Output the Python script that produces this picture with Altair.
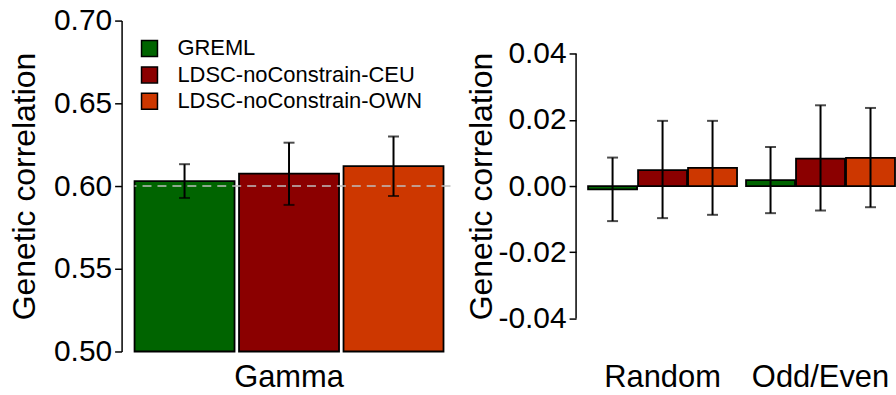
import altair as alt
import pandas as pd

FONT = "Liberation Sans"

methods = ["GREML", "LDSC-noConstrain-CEU", "LDSC-noConstrain-OWN"]
colors = ["#006400", "#8B0000", "#CD3700"]

left_groups = ["Gamma"]
gamma_est = [0.6030, 0.6075, 0.6120]
gamma_lo = [0.5928, 0.5886, 0.5940]
gamma_hi = [0.6132, 0.6262, 0.6300]
true_value = [0.60]

right_groups = ["Random", "Odd/Even"]
random_est = [-0.0010, 0.0048, 0.0055]
random_lo = [-0.0106, -0.0097, -0.0087]
random_hi = [0.0086, 0.0197, 0.0197]
oddeven_est = [0.0018, 0.0083, 0.0085]
oddeven_lo = [-0.0082, -0.0074, -0.0064]
oddeven_hi = [0.0118, 0.0244, 0.0236]

left_ticks = [0.50, 0.55, 0.60, 0.65, 0.70]
right_ticks = [-0.04, -0.02, 0.00, 0.02, 0.04]

left_df = pd.DataFrame({
    "group": left_groups * 3,
    "method": methods,
    "est": gamma_est,
    "lo": gamma_lo,
    "hi": gamma_hi,
})
right_df = pd.DataFrame({
    "group": [right_groups[0]] * 3 + [right_groups[1]] * 3,
    "method": methods * 2,
    "est": random_est + oddeven_est,
    "lo": random_lo + oddeven_lo,
    "hi": random_hi + oddeven_hi,
})
ref_df = pd.DataFrame({"val": true_value})
axisline_df = pd.DataFrame({"lo": [right_ticks[0]], "hi": [right_ticks[-1]]})

YTITLE = "Genetic correlation"
color_scale = alt.Scale(domain=methods, range=colors)
ERR_W = 2
BAR_W = 1.8


def x_enc(groups, po, pi, align):
    return alt.X(
        "group:N", sort=groups, title=None,
        scale=alt.Scale(paddingInner=pi, paddingOuter=po, align=align),
        axis=alt.Axis(labelAngle=0, domain=False, ticks=False, tickSize=0,
                      labelPadding=11, labelFontSize=31),
    )


def xo_enc(pi):
    return alt.XOffset("method:N", sort=methods,
                       scale=alt.Scale(paddingInner=pi, paddingOuter=0))


# ---------- left panel ----------
yl_scale = alt.Scale(domain=[0.5, 0.7], nice=False, zero=False)
yl_axis = alt.Axis(values=left_ticks, format=".2f", offset=13, tickSize=7,
                   tickWidth=1.5, domainWidth=1.5, labelPadding=3,
                   labelFontSize=30, titleFontSize=32, titlePadding=12)
xl = x_enc(left_groups, 0.0113, 0, 0)
xol = xo_enc(0.043)

bars_l = alt.Chart(left_df).mark_bar(stroke="black", strokeWidth=BAR_W).encode(
    x=xl, xOffset=xol,
    y=alt.Y("est:Q", title=YTITLE, scale=yl_scale, axis=yl_axis),
    y2=alt.datum(0.5),
    color=alt.Color("method:N", scale=color_scale, sort=methods,
                    legend=alt.Legend(orient="none", legendX=4, legendY=17,
                                      title=None, symbolType="square",
                                      symbolSize=256, symbolStrokeColor="black",
                                      symbolStrokeWidth=1.5, labelFontSize=22,
                                      labelFont=FONT, labelColor="black",
                                      labelLimit=0,
                                      labelOffset=17, rowPadding=4.5, padding=0)),
)
ref_l = alt.Chart(ref_df).mark_rule(color="#BEBEBE", strokeDash=[9, 6],
                                    strokeWidth=1.5).encode(
    y=alt.Y("val:Q", title=YTITLE, scale=yl_scale, axis=yl_axis))
err_l = alt.Chart(left_df).mark_rule(color="black", strokeWidth=ERR_W).encode(
    x=xl, xOffset=xol,
    y=alt.Y("lo:Q", title=YTITLE, scale=yl_scale, axis=yl_axis), y2="hi:Q")
caplo_l = alt.Chart(left_df).mark_tick(color="black", size=11, thickness=ERR_W).encode(
    x=xl, xOffset=xol, y=alt.Y("lo:Q", title=YTITLE, scale=yl_scale, axis=yl_axis))
caphi_l = alt.Chart(left_df).mark_tick(color="black", size=11, thickness=ERR_W).encode(
    x=xl, xOffset=xol, y=alt.Y("hi:Q", title=YTITLE, scale=yl_scale, axis=yl_axis))

left = alt.layer(bars_l, ref_l, err_l, caplo_l, caphi_l).properties(width=317, height=332)

# ---------- right panel ----------
yr_scale = alt.Scale(domain=[-0.05, 0.05], nice=False, zero=False)
yr_axis = alt.Axis(values=right_ticks, domain=False, tickSize=7, tickWidth=1.5,
                   labelPadding=3, labelFontSize=30, titleFontSize=32,
                   titlePadding=-1,
                   labelExpr="datum.value < 0 ? '-' + format(-datum.value, '.2f') : format(datum.value, '.2f')")
xr = x_enc(right_groups, 0.038, 0.057, 1)
xor_ = xo_enc(0.02)

bars_r = alt.Chart(right_df).mark_bar(stroke="black", strokeWidth=BAR_W).encode(
    x=xr, xOffset=xor_,
    y=alt.Y("est:Q", title=YTITLE, scale=yr_scale, axis=yr_axis),
    y2=alt.datum(0.0),
    color=alt.Color("method:N", scale=color_scale, sort=methods, legend=None),
)
axisline_r = alt.Chart(axisline_df).mark_rule(color="black", strokeWidth=1.5).encode(
    x=alt.value(0),
    y=alt.Y("lo:Q", title=YTITLE, scale=yr_scale, axis=yr_axis), y2="hi:Q")
err_r = alt.Chart(right_df).mark_rule(color="black", strokeWidth=ERR_W).encode(
    x=xr, xOffset=xor_,
    y=alt.Y("lo:Q", title=YTITLE, scale=yr_scale, axis=yr_axis), y2="hi:Q")
caplo_r = alt.Chart(right_df).mark_tick(color="black", size=11, thickness=ERR_W).encode(
    x=xr, xOffset=xor_, y=alt.Y("lo:Q", title=YTITLE, scale=yr_scale, axis=yr_axis))
caphi_r = alt.Chart(right_df).mark_tick(color="black", size=11, thickness=ERR_W).encode(
    x=xr, xOffset=xor_, y=alt.Y("hi:Q", title=YTITLE, scale=yr_scale, axis=yr_axis))

right = alt.layer(bars_r, axisline_r, err_r, caplo_r, caphi_r).properties(width=320, height=332)

chart = alt.hconcat(left, right, spacing=14).resolve_legend(
    color="independent"
).resolve_scale(
    xOffset="independent"
).properties(
    padding={"left": 8, "top": 5, "right": 0, "bottom": 0},
    background="white",
).configure_view(stroke=None).configure_axis(
    labelFont=FONT, titleFont=FONT, labelColor="black", titleColor="black",
    domainColor="black", tickColor="black", titleFontWeight="normal", grid=False,
).configure_legend(labelFont=FONT)

chart.save("out.html", embed_options={"renderer": "svg", "actions": False})
